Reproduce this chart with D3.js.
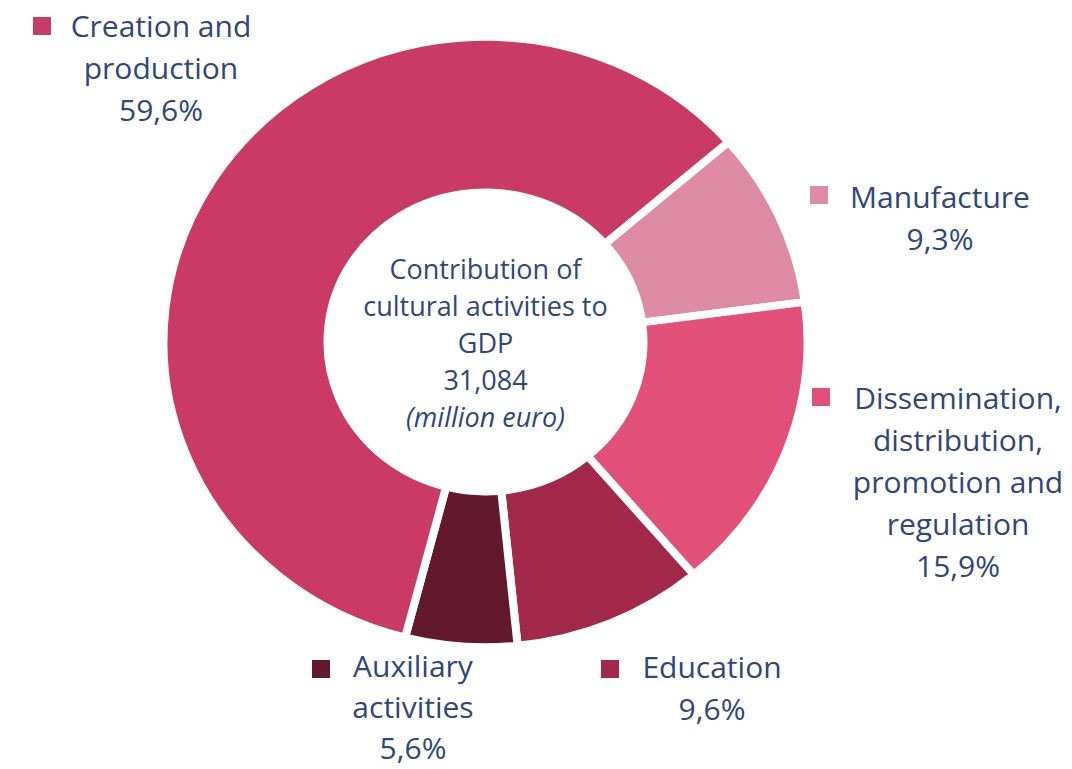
<!DOCTYPE html>
<html>
<head>
<meta charset="utf-8">
<script src="https://cdn.jsdelivr.net/npm/d3@7"></script>
<style>
  html, body { margin: 0; padding: 0; background: #ffffff; }
  svg { display: block; }
  text { font-family: "Open Sans", "Noto Sans", sans-serif; fill: #31467a; }
</style>
</head>
<body>
<svg id="chart" width="1072" height="769"></svg>
<script>
// ---- data ----
const categories = ["Manufacture", "Dissemination, distribution, promotion and regulation", "Education", "Auxiliary activities", "Creation and production"];
const shares = [9.3, 15.9, 9.6, 5.6, 59.6];
const shareLabels = ["9,3%", "15,9%", "9,6%", "5,6%", "59,6%"];
const colors = ["#de8ca6", "#e2507a", "#a2284c", "#62182d", "#c93b66"];
const labelLines = [
  ["Manufacture"],
  ["Dissemination,", "distribution,", "promotion and", "regulation"],
  ["Education"],
  ["Auxiliary", "activities"],
  ["Creation and", "production"]
];
const centerLines = ["Contribution of", "cultural activities to", "GDP", "31,084", "(million euro)"];

// ---- layout ----
const svg = d3.select("#chart");
const cx = 485.5, cy = 342;
const startDeg = 49;
const pie = d3.pie().sort(null).value(d => d)
  .startAngle(startDeg * Math.PI / 180)
  .endAngle(startDeg * Math.PI / 180 + 2 * Math.PI);
const arc = d3.arc().innerRadius(158).outerRadius(322);

const g = svg.append("g").attr("transform", `translate(${cx},${cy}) scale(1,0.947)`);
g.selectAll("path")
  .data(pie(shares))
  .join("path")
  .attr("d", arc)
  .attr("fill", (d, i) => colors[i])
  .attr("stroke", "#ffffff")
  .attr("stroke-width", 8)
  .attr("stroke-linejoin", "miter");

// center text
const ct = svg.append("g");
centerLines.forEach((t, i) => {
  ct.append("text")
    .attr("x", cx)
    .attr("y", 279 + i * 37)
    .attr("text-anchor", "middle")
    .attr("font-size", 27)
    .attr("font-style", i === 4 ? "italic" : "normal")
    .text(t);
});

// labels: [centerX, firstBaseline, squareX, squareY, lineHeight]
const labelPos = [
  [940, 208, 810, 186, 42],
  [958, 409, 812, 388, 42],
  [712, 678, 601, 660, 42],
  [413, 677, 312, 660, 41],
  [161, 37, 33, 17, 42]
];
const sq = 18;
categories.forEach((c, i) => {
  const [lx, ly, sx, sy, lh] = labelPos[i];
  const lg = svg.append("g");
  lg.append("rect").attr("x", sx).attr("y", sy).attr("width", sq).attr("height", sq).attr("fill", colors[i]);
  const lines = labelLines[i].concat([shareLabels[i]]);
  lines.forEach((t, j) => {
    lg.append("text")
      .attr("x", lx)
      .attr("y", ly + j * lh)
      .attr("text-anchor", "middle")
      .attr("font-size", 30)
      .text(t);
  });
});
</script>
</body>
</html>
